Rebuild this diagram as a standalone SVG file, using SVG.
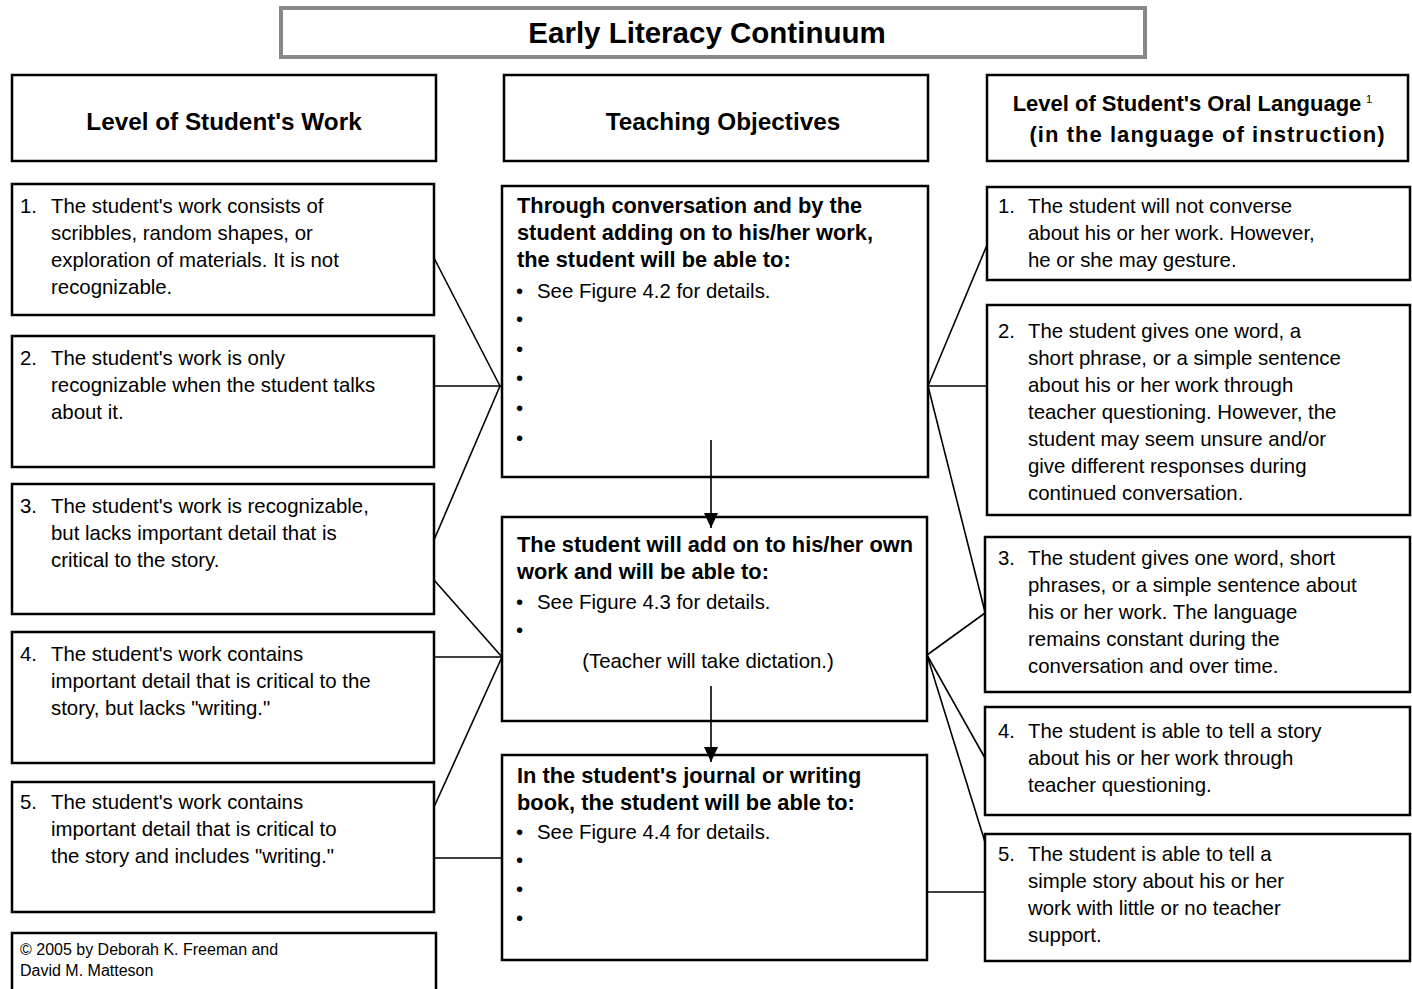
<svg xmlns="http://www.w3.org/2000/svg" width="1412" height="989" viewBox="0 0 1412 989">
<style>
  .box { fill: #fff; stroke: #000; stroke-width: 2.5; }
  .title-box { fill: #fff; stroke: #888; stroke-width: 4; }
  .t { font-family: "Liberation Sans", Arial, sans-serif; font-size: 20.4px; fill: #000; }
  .b { font-family: "Liberation Sans", Arial, sans-serif; font-size: 21.8px; font-weight: bold; fill: #000; }
  .h { font-family: "Liberation Sans", Arial, sans-serif; font-size: 24.3px; font-weight: bold; fill: #000; text-anchor: middle; }
  .h2 { font-family: "Liberation Sans", Arial, sans-serif; font-size: 22px; font-weight: bold; fill: #000; text-anchor: middle; }
  .title { font-family: "Liberation Sans", Arial, sans-serif; font-size: 29.5px; font-weight: bold; fill: #000; text-anchor: middle; }
  .c { font-family: "Liberation Sans", Arial, sans-serif; font-size: 16px; fill: #000; }
  .conn { stroke: #000; stroke-width: 1.6; fill: none; }
</style>
<defs>
  <marker id="arrow" markerUnits="userSpaceOnUse" markerWidth="15" markerHeight="14" refX="15" refY="7" orient="auto">
    <path d="M0,0 L15,7 L0,14 z" fill="#000"/>
  </marker>
</defs>
<rect width="1412" height="989" fill="#fff"/>

<g id="title">
  <rect class="title-box" x="281" y="8" width="864" height="49"/>
  <text class="title" x="707" y="43">Early Literacy Continuum</text>
</g>

<g id="header-work">
  <rect class="box" x="12" y="75" width="424" height="86"/>
  <text class="h" x="224" y="130">Level of Student's Work</text>
</g>
<g id="header-objectives">
  <rect class="box" x="504" y="75" width="424" height="86"/>
  <text class="h" x="723" y="130">Teaching Objectives</text>
</g>
<g id="header-oral">
  <rect class="box" x="987" y="75" width="421" height="86"/>
  <text class="h2" x="1187" y="111">Level of Student's Oral Language</text>
  <text class="t" x="1366" y="103" style="font-size:11px">1</text>
  <text class="h2" x="1207" y="142" textLength="355" lengthAdjust="spacing">(in the language of instruction)</text>
</g>

<g id="connectors">
  <line class="conn" x1="434" y1="258" x2="500" y2="386"/>
  <line class="conn" x1="434" y1="386" x2="502" y2="386"/>
  <line class="conn" x1="434" y1="540" x2="500" y2="386"/>
  <line class="conn" x1="434" y1="580" x2="502" y2="657"/>
  <line class="conn" x1="434" y1="657" x2="502" y2="657"/>
  <line class="conn" x1="434" y1="807" x2="502" y2="657"/>
  <line class="conn" x1="434" y1="858" x2="502" y2="858"/>
  <line class="conn" x1="928" y1="386" x2="987" y2="245"/>
  <line class="conn" x1="928" y1="386" x2="987" y2="386"/>
  <line class="conn" x1="928" y1="386" x2="985" y2="612"/>
  <line class="conn" x1="927" y1="655" x2="985" y2="613"/>
  <line class="conn" x1="927" y1="655" x2="985" y2="758"/>
  <line class="conn" x1="927" y1="655" x2="985" y2="842"/>
  <line class="conn" x1="927" y1="892" x2="985" y2="892"/>
</g>

<g id="work-1">
  <rect class="box" x="12" y="184" width="422" height="131"/>
  <text class="t" x="20" y="213">1.</text>
  <text class="t" x="51" y="213">The student's work consists of</text>
  <text class="t" x="51" y="240">scribbles, random shapes, or</text>
  <text class="t" x="51" y="267">exploration of materials. It is not</text>
  <text class="t" x="51" y="294">recognizable.</text>
</g>
<g id="work-2">
  <rect class="box" x="12" y="336" width="422" height="131"/>
  <text class="t" x="20" y="365">2.</text>
  <text class="t" x="51" y="365">The student's work is only</text>
  <text class="t" x="51" y="392">recognizable when the student talks</text>
  <text class="t" x="51" y="419">about it.</text>
</g>
<g id="work-3">
  <rect class="box" x="12" y="484" width="422" height="130"/>
  <text class="t" x="20" y="513">3.</text>
  <text class="t" x="51" y="513">The student's work is recognizable,</text>
  <text class="t" x="51" y="540">but lacks important detail that is</text>
  <text class="t" x="51" y="567">critical to the story.</text>
</g>
<g id="work-4">
  <rect class="box" x="12" y="632" width="422" height="131"/>
  <text class="t" x="20" y="661">4.</text>
  <text class="t" x="51" y="661">The student's work contains</text>
  <text class="t" x="51" y="688">important detail that is critical to the</text>
  <text class="t" x="51" y="715">story, but lacks "writing."</text>
</g>
<g id="work-5">
  <rect class="box" x="12" y="782" width="422" height="130"/>
  <text class="t" x="20" y="809">5.</text>
  <text class="t" x="51" y="809">The student's work contains</text>
  <text class="t" x="51" y="836">important detail that is critical to</text>
  <text class="t" x="51" y="863">the story and includes "writing."</text>
</g>
<g id="copyright">
  <rect class="box" x="12" y="933" width="424" height="70"/>
  <text class="c" x="20" y="955">© 2005 by Deborah K. Freeman and</text>
  <text class="c" x="20" y="976">David M. Matteson</text>
</g>

<g id="objective-1">
  <rect class="box" x="502" y="186" width="426" height="291"/>
  <text class="b" x="517" y="213">Through conversation and by the</text>
  <text class="b" x="517" y="240">student adding on to his/her work,</text>
  <text class="b" x="517" y="267">the student will be able to:</text>
  <text class="t" x="516" y="298">•</text>
  <text class="t" x="537" y="298">See Figure 4.2 for details.</text>
  <text class="t" x="516" y="326">•</text>
  <text class="t" x="516" y="356">•</text>
  <text class="t" x="516" y="385">•</text>
  <text class="t" x="516" y="415">•</text>
  <text class="t" x="516" y="445">•</text>
</g>
<g id="objective-2">
  <rect class="box" x="502" y="517" width="425" height="204"/>
  <text class="b" x="517" y="552">The student will add on to his/her own</text>
  <text class="b" x="517" y="579">work and will be able to:</text>
  <text class="t" x="516" y="609">•</text>
  <text class="t" x="537" y="609">See Figure 4.3 for details.</text>
  <text class="t" x="516" y="637">•</text>
  <text class="t" x="708" y="668" text-anchor="middle">(Teacher will take dictation.)</text>
</g>
<g id="objective-3">
  <rect class="box" x="502" y="755" width="425" height="205"/>
  <text class="b" x="517" y="783">In the student's journal or writing</text>
  <text class="b" x="517" y="810">book, the student will be able to:</text>
  <text class="t" x="516" y="839">•</text>
  <text class="t" x="537" y="839">See Figure 4.4 for details.</text>
  <text class="t" x="516" y="867">•</text>
  <text class="t" x="516" y="896">•</text>
  <text class="t" x="516" y="925">•</text>
</g>

<g id="arrows">
  <line class="conn" x1="711" y1="440" x2="711" y2="528" marker-end="url(#arrow)"/>
  <line class="conn" x1="711" y1="686" x2="711" y2="762" marker-end="url(#arrow)"/>
</g>

<g id="oral-1">
  <rect class="box" x="987" y="187" width="423" height="93"/>
  <text class="t" x="998" y="213">1.</text>
  <text class="t" x="1028" y="213">The student will not converse</text>
  <text class="t" x="1028" y="240">about his or her work. However,</text>
  <text class="t" x="1028" y="267">he or she may gesture.</text>
</g>
<g id="oral-2">
  <rect class="box" x="987" y="305" width="423" height="210"/>
  <text class="t" x="998" y="338">2.</text>
  <text class="t" x="1028" y="338">The student gives one word, a</text>
  <text class="t" x="1028" y="365">short phrase, or a simple sentence</text>
  <text class="t" x="1028" y="392">about his or her work through</text>
  <text class="t" x="1028" y="419">teacher questioning. However, the</text>
  <text class="t" x="1028" y="446">student may seem unsure and/or</text>
  <text class="t" x="1028" y="473">give different responses during</text>
  <text class="t" x="1028" y="500">continued conversation.</text>
</g>
<g id="oral-3">
  <rect class="box" x="985" y="537" width="425" height="155"/>
  <text class="t" x="998" y="565">3.</text>
  <text class="t" x="1028" y="565">The student gives one word, short</text>
  <text class="t" x="1028" y="592">phrases, or a simple sentence about</text>
  <text class="t" x="1028" y="619">his or her work. The language</text>
  <text class="t" x="1028" y="646">remains constant during the</text>
  <text class="t" x="1028" y="673">conversation and over time.</text>
</g>
<g id="oral-4">
  <rect class="box" x="985" y="707" width="425" height="108"/>
  <text class="t" x="998" y="738">4.</text>
  <text class="t" x="1028" y="738">The student is able to tell a story</text>
  <text class="t" x="1028" y="765">about his or her work through</text>
  <text class="t" x="1028" y="792">teacher questioning.</text>
</g>
<g id="oral-5">
  <rect class="box" x="985" y="834" width="425" height="127"/>
  <text class="t" x="998" y="861">5.</text>
  <text class="t" x="1028" y="861">The student is able to tell a</text>
  <text class="t" x="1028" y="888">simple story about his or her</text>
  <text class="t" x="1028" y="915">work with little or no teacher</text>
  <text class="t" x="1028" y="942">support.</text>
</g>
</svg>
